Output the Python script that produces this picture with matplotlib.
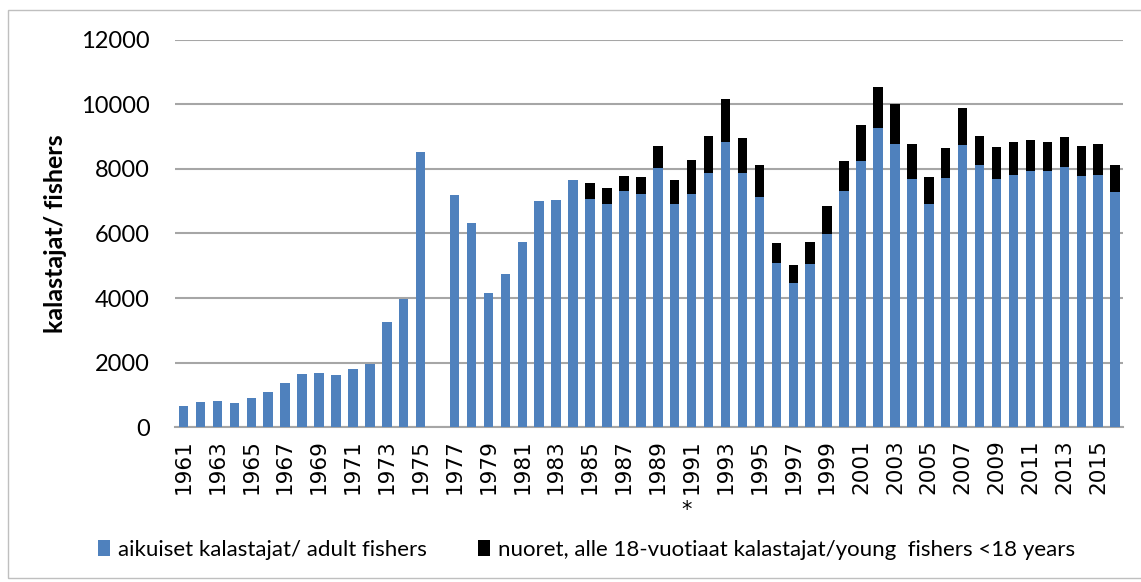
import numpy as np
import matplotlib
matplotlib.use('Agg')
import matplotlib.pyplot as plt
from matplotlib.patches import Rectangle

# data (1976 missing)
years = [1961, 1962, 1963, 1964, 1965, 1966, 1967, 1968, 1969, 1970,
         1971, 1972, 1973, 1974, 1975, 1977, 1978, 1979, 1980, 1981,
         1982, 1983, 1984, 1985, 1986, 1987, 1988, 1989, 1990, 1991,
         1992, 1993, 1994, 1995, 1996, 1997, 1998, 1999, 2000, 2001,
         2002, 2003, 2004, 2005, 2006, 2007, 2008, 2009, 2010, 2011,
         2012, 2013, 2014, 2015, 2016]
adult = [644, 768, 809, 756, 902, 1098, 1378, 1648, 1670, 1617,
         1794, 1969, 3266, 3960, 8522, 7200, 6312, 4169, 4740, 5740,
         7000, 7053, 7656, 7075, 6928, 7313, 7231, 8031, 6913, 7211,
         7885, 8848, 7876, 7130, 5090, 4466, 5068, 5969, 7326, 8258,
         9273, 8786, 7699, 6913, 7730, 8755, 8115, 7680, 7814, 7929,
         7929, 8074, 7795, 7814, 7276]
young = [0, 0, 0, 0, 0, 0, 0, 0, 0, 0,
         0, 0, 0, 0, 0, 0, 0, 0, 0, 0,
         0, 0, 0, 500, 469, 459, 532, 669, 755, 1056,
         1149, 1329, 1087, 982, 630, 559, 674, 871, 932, 1112,
         1277, 1223, 1065, 848, 931, 1121, 922, 994, 1015, 971,
         910, 932, 919, 962, 839]
tick_years = list(range(1961, 2017, 2))
tick_labels = [str(y) for y in tick_years]
marked_year = 1991  # the year with an asterisk under its label

plt.rcParams['font.family'] = ['Lato', 'DejaVu Sans']

fig = plt.figure(figsize=(11.41, 5.82), dpi=100)
ax = fig.add_axes([0.1534, 0.2663, 0.8306, 0.665])

blue = '#4F81BD'
ax.bar(years, adult, width=0.56, color=blue, label='aikuiset kalastajat/ adult fishers', zorder=3)
ax.bar(years, young, width=0.56, bottom=adult, color='black',
       label='nuoret, alle 18-vuotiaat kalastajat/young  fishers <18 years', zorder=3)

ax.set_xlim(1960.5, 2016.45)
ax.set_ylim(0, 12000)
ax.set_yticks(np.arange(0, 12001, 2000))
ax.yaxis.grid(True, color='#A6A6A6', linewidth=1.5, zorder=0)
ax.set_xticks(tick_years)
ax.set_xticklabels(tick_labels, rotation=90, fontfamily='DejaVu Sans', fontsize=15.5)
ax.tick_params(axis='y', labelsize=17, length=0, pad=18)
ax.tick_params(axis='x', length=0, pad=9)
for s in ['top', 'right', 'left']:
    ax.spines[s].set_visible(False)
ax.spines['bottom'].set_color('#A6A6A6')
ax.spines['bottom'].set_linewidth(1.5)
ax.set_ylabel('kalastajat/ fishers', fontsize=18, fontweight='bold', labelpad=10)

# asterisk below the 1991 label
ax.text(marked_year - 0.3, -0.215, '*', transform=ax.get_xaxis_transform(),
        ha='center', va='center', fontsize=15, fontfamily='DejaVu Sans')

fig.legend(loc='center', bbox_to_anchor=(0.514, 0.055), ncol=2, frameon=False,
           fontsize=16, handlelength=0.55, handleheight=0.75, columnspacing=2.3, handletextpad=0.35)

fig.patches.append(Rectangle((8 / 1141, 0.007), 1.0, 1 - 9.5 / 582 - 0.007,
                             transform=fig.transFigure, fill=False,
                             edgecolor='#BFBFBF', linewidth=1))

fig.savefig('out.png', dpi=100)
